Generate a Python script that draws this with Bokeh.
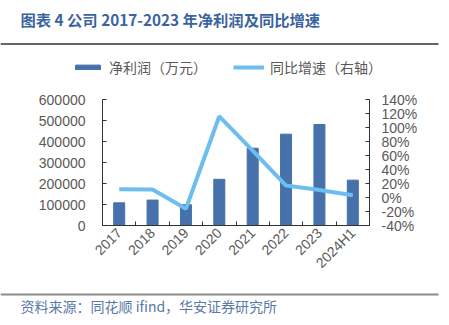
import math
from bokeh.plotting import figure
from bokeh.layouts import column
from bokeh.models import (Range1d, LinearAxis, FixedTicker, PrintfTickFormatter,
                          Legend, LegendItem, ColumnDataSource)
from bokeh.core.properties import value
from bokeh.embed import file_html
from bokeh.resources import INLINE

years = ["2017", "2018", "2019", "2020", "2021", "2022", "2023", "2024H1"]
profit = [108000, 121000, 99000, 220000, 368000, 435000, 481000, 216000]
growth = [11.7, 11.5, -16.0, 116.0, 67.0, 17.0, 10.7, 3.2]
left_ticks = [0, 100000, 200000, 300000, 400000, 500000, 600000]
right_ticks = [-40, -20, 0, 20, 40, 60, 80, 100, 120, 140]

title_text = "图表 4 公司 2017-2023 年净利润及同比增速"
source_text = "资料来源：同花顺 ifind，华安证券研究所"
bar_name = "净利润（万元）"
line_name = "同比增速（右轴）"

BAR = "#4671AA"
LINE = "#6CBEF0"
TXT = "#595959"
CJK = "Noto Sans CJK SC"
W = 449
H_HEAD, H_MAIN, H_FOOT = 88, 197, 40

xpos = [i + 0.5 for i in range(len(years))]
src = ColumnDataSource(dict(x=xpos, profit=profit, growth=growth))


def blank(h):
    f = figure(width=W, height=h, output_backend="svg", toolbar_location=None,
               x_range=Range1d(0, W), y_range=Range1d(h, 0),
               x_axis_type=None, y_axis_type=None, min_border=0,
               frame_align=False)
    f.outline_line_color = None
    f.background_fill_color = "white"
    f.border_fill_color = "white"
    return f


# ---------- header: title, rule, legend ----------
head = blank(H_HEAD)
head.text(x=[20], y=[18], text=[title_text], text_font=value(CJK),
          text_font_size="15.3px", text_font_style="bold", text_color="#3A64A0",
          text_baseline="middle")
head.segment(x0=[0], x1=[438], y0=[43.5], y1=[43.5], line_color="#333333", line_width=1.5)
# legend keys: same glyph styles as the chart, drawn in off-screen ranges
head.extra_x_ranges = {"off": Range1d(1e6, 2e6)}
head.extra_y_ranges = {"offy": Range1d(1e8, 2e8)}
key_bar = head.vbar(x="x", top="profit", width=0.33, source=src, color=BAR,
                    x_range_name="off", y_range_name="offy")
key_line = head.line(x="x", y="growth", source=src, line_color=LINE, line_width=4,
                     x_range_name="off", y_range_name="offy")
legend = Legend(items=[LegendItem(label=bar_name, renderers=[key_bar]),
                       LegendItem(label=line_name, renderers=[key_line])],
                orientation="horizontal", location=(72, 11),
                glyph_width=31, glyph_height=6, label_standoff=6, spacing=26,
                label_text_font=CJK, label_text_font_size="14px",
                label_text_color=TXT, border_line_color=None,
                background_fill_alpha=0, padding=0, margin=0)
head.add_layout(legend, "center")

# ---------- main chart ----------
p = figure(width=W, height=H_MAIN, output_backend="svg", toolbar_location=None,
           x_range=Range1d(0, len(years)), y_range=Range1d(0, 600000),
           min_border_left=102, min_border_right=80, min_border_top=11,
           min_border_bottom=60, frame_align=False)
p.extra_y_ranges = {"pct": Range1d(-40, 140)}
p.outline_line_color = None
p.xgrid.visible = False
p.ygrid.visible = False
p.background_fill_color = "white"
p.border_fill_color = "white"

p.vbar(x="x", top="profit", width=0.33, source=src, color=BAR)
p.line(x="x", y="growth", source=src, y_range_name="pct",
       line_color=LINE, line_width=4)

xa = p.xaxis[0]
xa.ticker = FixedTicker(ticks=xpos, minor_ticks=list(range(len(years) + 1)))
xa.major_label_overrides = {x: y for x, y in zip(xpos, years)}
xa.major_label_orientation = math.pi / 4
xa.major_tick_in = 0
xa.major_tick_out = 0
xa.minor_tick_in = 4
xa.minor_tick_out = 0
xa.minor_tick_line_color = "#333333"

ya = p.yaxis[0]
ya.ticker = FixedTicker(ticks=left_ticks)
ya.formatter = PrintfTickFormatter(format="%d")
ya.major_tick_in = 4
ya.major_tick_out = 0
ya.minor_tick_line_color = None

ra = LinearAxis(y_range_name="pct", ticker=FixedTicker(ticks=right_ticks),
                formatter=PrintfTickFormatter(format="%d%%"))
ra.major_tick_in = 4
ra.major_tick_out = 0
ra.minor_tick_line_color = None
p.add_layout(ra, "right")

for ax in [xa, ya, ra]:
    ax.axis_line_color = "#333333"
    ax.major_tick_line_color = "#333333"
    ax.major_label_text_color = TXT
    ax.major_label_text_font = "Liberation Sans"
    ax.major_label_text_font_size = "14px"
ra.major_label_standoff = 12
ya.major_label_standoff = 17

# ---------- footer ----------
foot = blank(H_FOOT)
foot.segment(x0=[0], x1=[438], y0=[9], y1=[9], line_color="#8C8C8C", line_width=2)
foot.text(x=[20], y=[20], text=[source_text], text_font=value(CJK),
          text_font_size="14px", text_color="#5A78A8", text_baseline="middle")

layout = column(head, p, foot, spacing=0)
open("out.html", "w").write(file_html(layout, INLINE))
